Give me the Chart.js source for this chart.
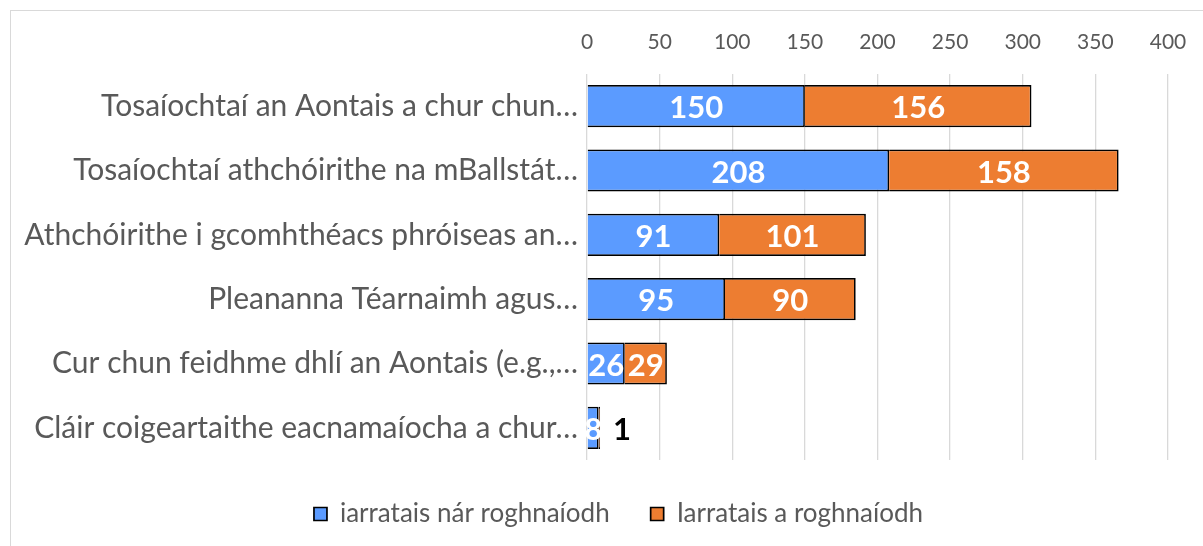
<!DOCTYPE html>
<html>
<head>
<meta charset="utf-8">
<script src="https://cdn.jsdelivr.net/npm/chart.js@4/dist/chart.umd.min.js"></script>
<style>
  html, body { margin: 0; padding: 0; background: #fff; overflow: hidden; }
  #wrap { position: absolute; left: 10px; top: 10px; width: 1200px; height: 560px; border: 1px solid #d9d9d9; }
</style>
</head>
<body>
<div id="wrap"><canvas id="chart" width="1200" height="560"></canvas></div>
<script>
(function () {
    "use strict";

    const categories = [
        "Tosaíochtaí an Aontais a chur chun…",
        "Tosaíochtaí athchóirithe na mBallstát…",
        "Athchóirithe i gcomhthéacs phróiseas an…",
        "Pleananna Téarnaimh agus…",
        "Cur chun feidhme dhlí an Aontais (e.g.,…",
        "Cláir coigeartaithe eacnamaíocha a chur…"
    ];
    const notSelected = [150, 208, 91, 95, 26, 8];
    const selected = [156, 158, 101, 90, 29, 1];
    const seriesNames = ["iarratais nár roghnaíodh", "Iarratais a roghnaíodh"];
    const xMin = 0, xMax = 400, xStep = 50;

    const palette = {
        blue: "#5b9bff",
        orange: "#ed7d31",
        text: "#595959",
        grid: "#d9d9d9"
    };
    const font = "Lato";

    // value labels inside each segment, like the excel data labels
    const valueLabels = {
        id: "valueLabels",
        afterDatasetsDraw(chart) {
            const ctx = chart.ctx;
            ctx.save();
            ctx.font = "bold 31px " + font;
            ctx.textBaseline = "middle";
            chart.data.datasets.forEach((ds, di) => {
                const meta = chart.getDatasetMeta(di);
                meta.data.forEach((bar, i) => {
                    const txt = String(ds.data[i]);
                    const w = Math.abs(bar.x - bar.base);
                    const tw = ctx.measureText(txt).width;
                    if (di === chart.data.datasets.length - 1 && w < tw / 2) {
                        ctx.fillStyle = "#000";
                        ctx.textAlign = "left";
                        ctx.fillText(txt, bar.x + 13, bar.y + 2);
                    } else {
                        ctx.fillStyle = "#fff";
                        ctx.textAlign = "center";
                        ctx.fillText(txt, (bar.x + bar.base) / 2, bar.y + 2);
                    }
                });
            });
            ctx.restore();
        }
    };

    // legend is centred on the whole chart box in the original, not on the plot
    const legendShift = {
        id: "legendShift",
        afterLayout(chart) {
            if (!chart.legend) return;
            chart.legend.left += 29;
            chart.legend.right += 29;
        }
    };

    new Chart(document.getElementById("chart"), {
        type: "bar",
        data: {
            labels: categories,
            datasets: [
                { label: seriesNames[0], data: notSelected, backgroundColor: palette.blue, borderColor: "#000", borderWidth: 1.7 },
                { label: seriesNames[1], data: selected, backgroundColor: palette.orange, borderColor: "#000", borderWidth: 1.7 }
            ]
        },
        options: {
            indexAxis: "y",
            responsive: false,
            animation: false,
            barPercentage: 0.655,
            categoryPercentage: 1,
            layout: { padding: { left: 0, right: 43, top: 0, bottom: 34 } },
            plugins: {
                legend: {
                    position: "bottom",
                    labels: {
                        color: palette.text,
                        font: { family: font, size: 26 },
                        boxWidth: 13,
                        boxHeight: 13,
                        padding: 41
                    }
                },
                tooltip: { enabled: false }
            },
            scales: {
                x: {
                    position: "top",
                    stacked: true,
                    min: xMin,
                    max: xMax,
                    ticks: { stepSize: xStep, color: palette.text, font: { family: font, size: 21 }, padding: 19 },
                    grid: { color: palette.grid, lineWidth: 1.3, drawTicks: false },
                    border: { display: false },
                    afterFit: (s) => { s.height = 63; }
                },
                y: {
                    stacked: true,
                    ticks: { color: palette.text, font: { family: font, size: 30 }, padding: 1 },
                    grid: { display: false },
                    border: { display: false },
                    afterFit: (s) => { s.width = 576; }
                }
            }
        },
        plugins: [valueLabels, legendShift]
    });
})();
</script>
</body>
</html>
